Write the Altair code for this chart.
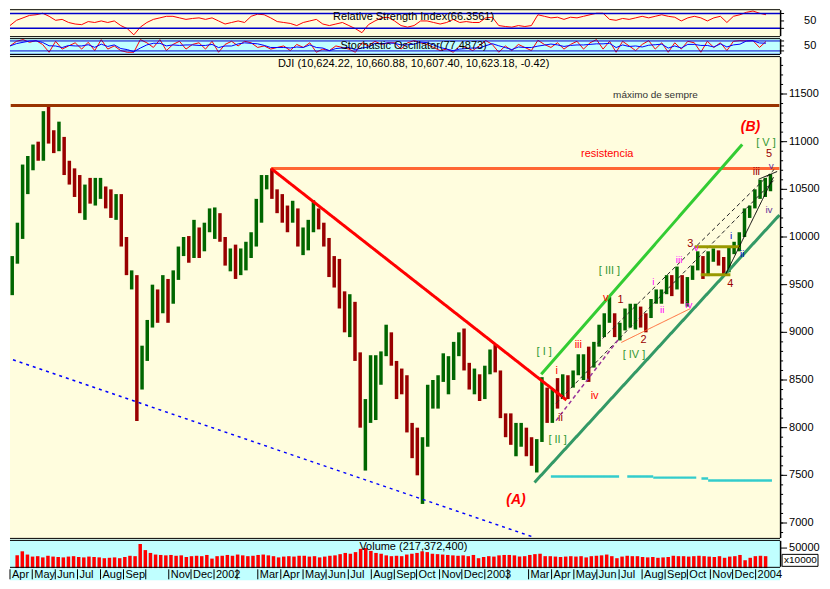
import altair as alt
import pandas as pd

# ---------------- data ----------------
week_first = "2001-04-04"   # weekly bars, one per trading week (mid-week date)

bar_high = [
    9800, 10150, 10760, 10850, 10970, 11000, 11320, 11380,
    11120, 11210, 11050, 10800, 10720,
    10650, 10550, 10620, 10620,
    10620, 10530, 10500, 10450, 10450,
    10000, 9650, 9600, 8860,
    9130, 9500, 9450, 9600, 9560,
    9650, 9900, 10000, 10010,
    10180, 10100, 10150, 10300,
    10310, 10250, 10000, 9880,
    9920, 9880, 9950, 10050,
    10400, 10650, 10650, 10720, 10500,
    10450, 10330, 10380, 10300,
    10100, 10180, 10385, 10300, 10150,
    9990, 9800, 9770, 9430,
    9400, 9320, 8790, 8300,
    8760, 8760, 8800, 9080, 9000,
    8700, 8620, 8550, 8050,
    8000, 7900, 8450, 8500, 8550,
    8780, 8750, 8900, 9000,
    9040, 8680, 8620, 8560,
    8650, 8820, 8870, 8600, 8150,
    8150, 8050, 8050, 8000,
    7900, 7880, 8530, 8420,
    8400, 8520, 8560, 8550,
    8600, 8770, 8770, 8850, 8900,
    9080, 9200, 9370, 9200,
    9100, 9250, 9300, 9300,
    9270, 9200, 9350, 9450, 9450,
    9600, 9600, 9690, 9600,
    9580, 9700, 9850, 9800, 9850,
    9880, 9860, 9790, 9900,
    9950, 10050, 10300, 10330,
    10500, 10600, 10620, 10660,
]
bar_low = [
    9390, 9720, 9980, 10450, 10700, 10800, 10800, 10980,
    10880, 10900, 10650, 10550, 10420,
    10250, 10180, 10350, 10330,
    10400, 10300, 10200, 10180, 9900,
    9600, 9450, 8070, 8400,
    8700, 9050, 9100, 9200, 9100,
    9300, 9550, 9800, 9730,
    9780, 9780, 9850, 10050,
    9980, 9950, 9700, 9640,
    9560, 9600, 9650, 9780,
    9900, 10150, 10500, 10400, 10250,
    10150, 10050, 10150, 9900,
    9810, 9860, 10050, 10080, 9900,
    9580, 9470, 9250, 9000,
    8950, 8700, 8000, 7550,
    8050, 8080, 8450, 8750, 8650,
    8300, 8350, 7950, 7680,
    7500, 7200, 7800, 8200, 8200,
    8480, 8350, 8500, 8750,
    8600, 8400, 8350, 8280,
    8300, 8560, 8580, 8100, 7900,
    7820, 7700, 7800, 7700,
    7600, 7530, 7850, 8050,
    8050, 8200, 8300, 8300,
    8420, 8550, 8500, 8480, 8630,
    8850, 8950, 9100, 8950,
    8915, 9020, 9050, 9030,
    9050, 9000, 9150, 9300, 9300,
    9400, 9380, 9450, 9300,
    9270, 9550, 9650, 9560, 9590,
    9740, 9700, 9600, 9630,
    9820, 9850, 10000, 10200,
    10300, 10400, 10420, 10480,
]
bar_close = [
    9790, 10000, 10580, 10800, 10950, 10820, 11300, 11010,
    10990, 11050, 10650, 10600, 10500,
    10250, 10530, 10420, 10460,
    10510, 10420, 10240, 10420, 9950,
    9600, 9600, 8240, 8850,
    9120, 9400, 9200, 9540, 9320,
    9600, 9870, 9960, 9850,
    10050, 9810, 10030, 10140,
    10260, 9990, 9770, 9840,
    9700, 9750, 9900, 10000,
    10370, 10570, 10610, 10430, 10400,
    10270, 10190, 10260, 9910,
    10000, 10100, 10350, 10100, 9930,
    9620, 9500, 9250, 9240,
    9380, 8700, 8020, 8260,
    8310, 8750, 8780, 8900, 8660,
    8430, 8380, 7990, 7700,
    7530, 7850, 8320, 8440, 8520,
    8540, 8580, 8800, 8900,
    8650, 8430, 8500, 8300,
    8600, 8780, 8590, 8130, 8050,
    7860, 7900, 8010, 7890,
    7740, 7860, 8520, 8150,
    8280, 8220, 8340, 8300,
    8580, 8600, 8700, 8600, 8850,
    9060, 9120, 9200, 9010,
    9070, 9120, 9190, 9280,
    9150, 9130, 9320, 9350, 9420,
    9590, 9480, 9650, 9320,
    9570, 9680, 9720, 9580, 9800,
    9810, 9770, 9630, 9780,
    9860, 10040, 10280, 10300,
    10450, 10460, 10600, 10623,
]
bar_volume = [  # x10000
    32000, 42000, 34000, 29000, 30000, 27000, 31000, 29000,
    28000, 27000, 29000, 30000, 28000,
    27000, 29000, 28000, 27000,
    25000, 26000, 27000, 25000, 28000,
    31000, 30000, 60000, 45000,
    38000, 34000, 33000, 32000, 33000,
    31000, 32000, 28000, 30000,
    31000, 30000, 33000, 24000,
    30000, 31000, 33000, 31000,
    34000, 32000, 30000, 31000,
    33000, 34000, 32000, 30000, 27000,
    29000, 30000, 29000, 31000,
    31000, 29000, 30000, 27000, 29000,
    31000, 32000, 35000, 38000,
    36000, 40000, 48000, 50000,
    43000, 38000, 36000, 32000, 30000,
    31000, 30000, 34000, 36000,
    38000, 42000, 40000, 36000, 35000,
    34000, 33000, 32000, 31000,
    32000, 30000, 33000, 25000,
    28000, 30000, 29000, 32000, 33000,
    33000, 32000, 29000, 30000,
    33000, 35000, 36000, 30000,
    30000, 29000, 28000, 29000,
    30000, 29000, 30000, 27000, 30000,
    31000, 32000, 34000, 30000,
    25000, 29000, 31000, 30000,
    30000, 28000, 27000, 28000, 26000,
    27000, 28000, 31000, 30000,
    30000, 29000, 30000, 31000, 30000,
    29000, 28000, 30000, 26000,
    29000, 30000, 33000, 20000,
    26000, 30000, 31000, 30000,
]

# oscillators, evenly sampled from Apr 2001 to mid Jan 2004
osc_first, osc_last = "2001-04-01", "2004-01-15"
rsi_values = [
    37.5, 51.7, 58.3, 65, 66.7, 70.8, 62.5, 51.7, 54.2, 45.8,
    41.7, 40, 48.3, 45.8, 50, 45.8, 50, 37.5, 29.2, 12.5,
    33.3, 45.8, 54.2, 58.3, 62.5, 62.5, 58.3, 54.2, 56.7, 58.3,
    54.2, 58.3, 50, 41.7, 45.8, 50, 45.8, 62.5, 68.3, 66.7,
    58.3, 48.3, 45.8, 43.3, 37.5, 45.8, 50, 54.2, 41.7, 37.5,
    41.7, 45.8, 37.5, 29.2, 18.3, 40, 50, 58.3, 60, 50,
    37.5, 33.3, 37.5, 50, 50, 45.8, 41.7, 45.8, 54.2, 45.8,
    48.3, 45.8, 45.8, 58.3, 60, 37.5, 35, 33.3, 37.5, 35,
    37.5, 66.7, 62.5, 58.3, 60, 54.2, 60, 58.3, 62.5, 66.7,
    70.8, 70.8, 54.2, 51.7, 56.7, 54.2, 58.3, 62.5, 58.3, 62.5,
    66.7, 62.5, 60, 50, 58.3, 62.5, 58.3, 50, 58.3, 62.5,
    45.8, 62.5, 66.7, 73.3, 76.7, 70.8, 66.7,
]
stoch_values = [
    50, 78, 88, 72, 82, 59, 12, 78, 31, 50,
    69, 31, 72, 22, 88, 31, 50, 22, 12, 12,
    88, 69, 41, 88, 22, 59, 78, 31, 59, 69,
    31, 78, 12, 59, 78, 50, 78, 69, 41, 50,
    31, 41, 50, 22, 59, 41, 69, 12, 31, 22,
    50, 41, 31, 12, 69, 50, 78, 59, 69, 69,
    31, 69, 82, 69, 59, 41, 22, 31, 12, 50,
    41, 22, 50, 82, 59, 12, 50, 22, 59, 41,
    22, 84, 59, 41, 69, 31, 59, 78, 31, 69,
    88, 31, 78, 12, 78, 50, 22, 59, 82, 31,
    69, 12, 69, 31, 78, 69, 12, 78, 41, 69,
    22, 78, 82, 80, 82, 41, 77,
]
rsi_levels = [70, 30]
stoch_levels = [80, 20, 0]

month_labels = ["Apr", "May", "Jun", "Jul", "Aug", "Sep", "", "Nov", "Dec",
                "2002", "", "Mar", "Apr", "May", "Jun", "Jul", "Aug", "Sep", "Oct", "Nov", "Dec",
                "2003", "", "Mar", "Apr", "May", "Jun", "Jul", "Aug", "Sep", "Oct", "Nov", "Dec",
                "2004"]

# right-hand scale ticks and labels
price_tick_values = [7000, 7500, 8000, 8500, 9000, 9500, 10000, 10500, 11000, 11500]
price_tick_labels = ["7000", "7500", "8000", "8500", "9000", "9500", "10000", "10500", "11000", "11500"]
price_minor_values = list(range(6900, 11801, 100))
rsi_tick_values = [30, 50, 70]
stoch_tick_values = [20, 50, 80]
osc_label_values, osc_label_text = [50], ["50"]
vol_tick_values, vol_tick_labels = [50000], ["50000"]
vol_unit = "x10000"

# drawn trend lines (date, price) -> (date, price)
line_kind = ["max", "res", "down", "blue", "gup", "glo", "bdash", "bdash", "pdash",
             "orange", "olive", "olive", "black", "black",
             "cyan", "cyan", "cyan", "cyan", "cyan"]
line_d1 = ["2001-04-02", "2002-03-19", "2002-03-19", "2001-04-05", "2003-03-18", "2003-03-09",
           "2003-06-02", "2003-04-07", "2003-04-07", "2003-07-04", "2003-10-11", "2003-10-19",
           "2003-11-22", "2004-01-05",
           "2003-03-31", "2003-07-12", "2003-08-16", "2003-10-20", "2003-10-29"]
line_p1 = [11380, 10718, 10718, 8712, 8560, 7425, 8884, 8256, 8074, 8894, 9897, 9603,
           9614, 10606, 7489, 7489, 7476, 7466, 7446]
line_d2 = ["2004-02-02", "2004-02-02", "2003-04-21", "2003-03-09", "2003-12-14", "2004-02-02",
           "2004-01-26", "2004-01-27", "2003-07-01", "2003-10-05", "2003-12-11", "2003-11-28",
           "2004-01-25", "2004-01-30",
           "2003-07-01", "2003-08-16", "2003-10-13", "2003-10-29", "2004-01-23"]
line_p2 = [11380, 10718, 8290, 6848, 10971, 10230, 10708, 10606, 8935, 9249, 9897, 9603,
           10627, 10687, 7489, 7489, 7476, 7466, 7446]

# wave-count and note labels
note_text = ["máximo de sempre", "resistencia", "[ I ]", "[ II ]", "[ III ]", "[ IV ]", "[ V ]",
             "i", "ii", "iii", "iv", "v", "1", "2", "3", "4", "5",
             "i", "ii", "iii", "iv", "v", "i", "ii", "iii", "iv", "v",
             "DJI (10,624.22, 10,660.88, 10,607.40, 10,623.18, -0.42)"]
note_date = ["2003-08-19", "2003-06-15", "2003-03-22", "2003-04-09", "2003-06-18", "2003-07-21",
             "2004-01-15", "2003-04-08", "2003-04-13", "2003-05-07", "2003-05-29", "2003-06-13",
             "2003-07-03", "2003-08-03", "2003-10-05", "2003-11-28", "2004-01-19",
             "2003-08-16", "2003-08-28", "2003-09-20", "2003-10-03", "2003-10-13",
             "2003-11-29", "2003-12-14", "2004-01-02", "2004-01-19", "2004-01-22",
             "2002-09-27"]
note_price = [11488, 10870, 8793, 7871, 9644, 8763, 10991, 8590, 8104, 8864, 8327, 9360,
              9340, 8915, 9928, 9502, 10870, 9533, 9229, 9755, 9290, 9888,
              10008, 9826, 10677, 10282, 10748, 11812]
note_kind = ["dark", "red", "green", "green", "green", "green", "green",
             "red", "maroon", "red", "red", "red", "maroon", "maroon", "maroon", "maroon", "maroon",
             "magenta", "magenta", "magenta", "magenta", "magenta", "blue", "blue",
             "maroon", "purple", "purple", "black"]

wave_text = ["(A)", "(B)"]
wave_date = ["2003-02-12", "2003-12-25"]
wave_price = [7243, 11153]

rsi_title = "Relative Strength Index(66.3561)"
stoch_title = "Stochastic Oscillator(77.4873)"
vol_title = "Volume (217,372,400)"
title_date = "2002-09-27"

# ---------------- styles ----------------
FONT = "Liberation Sans"
BG_Y = "#FFFDDE"
BG_C = "#C0FFFF"
W = 772
SIDE_W = 42
H_RSI, H_STO, H_MAIN, H_VOL, H_LAB = 29, 18, 485, 29, 12

line_style = {
    "max": ("#993300", 3, "solid"), "res": ("#FF6633", 3, "solid"),
    "down": ("#FF0000", 3, "solid"), "blue": ("#0000FF", 1.5, "dot"),
    "gup": ("#33CC33", 3, "solid"), "glo": ("#339966", 3, "solid"),
    "bdash": ("#222222", 1, "dash"), "pdash": ("#993399", 1.5, "dash"),
    "orange": ("#FF6633", 1, "solid"), "olive": ("#999900", 3, "solid"),
    "black": ("#000000", 1, "solid"), "cyan": ("#33CCCC", 2.5, "solid"),
}
note_style = {
    "dark": ("#333333", 10), "red": ("#FF0000", 11), "green": ("#339933", 11),
    "maroon": ("#990000", 11), "magenta": ("#FF00FF", 10), "blue": ("#0000CC", 10),
    "purple": ("#663399", 10), "black": ("#000000", 11),
}

# ---------------- frames ----------------
weeks = pd.date_range(week_first, periods=len(bar_close), freq="W-WED")
bars = pd.DataFrame({"date": weeks, "high": bar_high, "low": bar_low,
                     "close": bar_close, "vol": bar_volume})
bars["dir"] = ["up" if i == 0 or bar_close[i] >= bar_close[i - 1] else "down"
               for i in range(len(bar_close))]

rsi_df = pd.DataFrame({"date": pd.date_range(osc_first, osc_last, periods=len(rsi_values)),
                       "rsi": rsi_values})
sto_df = pd.DataFrame({"date": pd.date_range(osc_first, osc_last, periods=len(stoch_values)),
                       "k": stoch_values})

lines = pd.DataFrame({"d1": pd.to_datetime(line_d1), "p1": line_p1,
                      "d2": pd.to_datetime(line_d2), "p2": line_p2})
lines["color"] = [line_style[k][0] for k in line_kind]
lines["w"] = [line_style[k][1] for k in line_kind]
lines["dash"] = [line_style[k][2] for k in line_kind]

notes = pd.DataFrame({"d": pd.to_datetime(note_date), "p": note_price, "t": note_text})
notes["c"] = [note_style[k][0] for k in note_kind]
notes["s"] = [note_style[k][1] for k in note_kind]

waves = pd.DataFrame({"d": pd.to_datetime(wave_date), "p": wave_price, "t": wave_text})

months = pd.date_range("2001-04-01", "2004-01-01", freq="MS")
lab_df = pd.DataFrame({"d": months, "t": month_labels})

x_dom = [alt.DateTime(year=2001, month=4, date=1), alt.DateTime(year=2004, month=2, date=3)]
month_vals = [alt.DateTime(year=d.year, month=d.month, date=1) for d in months]
one_row = pd.DataFrame({"k": [0]})


def xgrid(field):
    return alt.X(f"{field}:T", scale=alt.Scale(domain=x_dom),
                 axis=alt.Axis(values=month_vals, grid=True, gridDash=[4, 4],
                               gridColor="#A8A8A8", labels=False, ticks=False,
                               domain=False, title=None, aria=False))


def xplain(field):
    return alt.X(f"{field}:T", scale=alt.Scale(domain=x_dom), axis=None)


def background(fill, h):
    # fill only (no stroke so the panel bounds stay exact)
    return alt.Chart(one_row).mark_rect(fill=fill).encode(
        x=alt.value(0), x2=alt.value(W), y=alt.value(0), y2=alt.value(h))


def borders(h):
    return alt.Chart(pd.DataFrame({"yy": [1, h - 1]})).mark_rule(color="black", strokeWidth=1).encode(
        x=alt.value(0), x2=alt.value(W), y=alt.Y("yy:Q", scale=alt.Scale(domain=[h, 0], range=[0, h]), axis=None))


def text_layer(df_, scale):
    return alt.Chart(df_).mark_text(font=FONT, fontSize=11, color="black").encode(
        x=xplain("d"), y=alt.Y("v:Q", scale=scale, axis=None), text="t:N")


def side(scale, h, tick_vals, label_vals, label_text, label_x, tick_len=7,
         minor_vals=None, extra_layers=()):
    layers = [alt.Chart(one_row).mark_rule(color="black", strokeWidth=1.5).encode(
        x=alt.value(0.5), y=alt.value(1.5), y2=alt.value(h - 1.5))]
    if minor_vals:
        layers.append(alt.Chart(pd.DataFrame({"v": minor_vals})).mark_rule(color="black").encode(
            x=alt.value(0), x2=alt.value(3), y=alt.Y("v:Q", scale=scale, axis=None)))
    layers.append(alt.Chart(pd.DataFrame({"v": tick_vals})).mark_rule(color="black").encode(
        x=alt.value(0), x2=alt.value(tick_len), y=alt.Y("v:Q", scale=scale, axis=None)))
    layers.append(alt.Chart(pd.DataFrame({"v": label_vals, "t": label_text})).mark_text(
        align="left", baseline="middle", font=FONT, fontSize=11, color="black").encode(
        x=alt.value(label_x), y=alt.Y("v:Q", scale=scale, axis=None), text="t:N"))
    layers.extend(extra_layers)
    return alt.layer(*layers).properties(width=SIDE_W, height=h)


# ---------------- RSI ----------------
rsi_scale = alt.Scale(domain=[5, 83], nice=False, zero=False)
rsi = alt.layer(
    background(BG_Y, H_RSI),
    alt.Chart(rsi_df).mark_line(color="#FF0000", strokeWidth=1)
    .encode(x=xgrid("date"), y=alt.Y("rsi:Q", scale=rsi_scale, axis=None)),
    alt.Chart(pd.DataFrame({"v": rsi_levels})).mark_rule(color="#0000CC", strokeWidth=1.5)
    .encode(y=alt.Y("v:Q", scale=rsi_scale, axis=None)),
    text_layer(pd.DataFrame({"d": pd.to_datetime([title_date]), "v": [60], "t": [rsi_title]}), rsi_scale),
    borders(H_RSI),
).resolve_scale(y="independent").properties(width=W, height=H_RSI)
rsi_side = side(rsi_scale, H_RSI, rsi_tick_values, osc_label_values, osc_label_text, 24, tick_len=4)

# ---------------- Stochastic ----------------
sto_scale = alt.Scale(domain=[-8, 100], nice=False, zero=False)
sto_base = alt.Chart(sto_df)
sto = alt.layer(
    background(BG_C, H_STO),
    sto_base.mark_line(color="#FF0000", strokeWidth=1)
    .encode(x=xgrid("date"), y=alt.Y("k:Q", scale=sto_scale, axis=None)),
    alt.Chart(pd.DataFrame({"v": stoch_levels})).mark_rule(color="#0000CC", strokeWidth=1)
    .encode(y=alt.Y("v:Q", scale=sto_scale, axis=None)),
    sto_base.transform_window(dline="mean(k)", frame=[-2, 0]).mark_line(color="#0000FF", strokeWidth=1)
    .encode(x=xplain("date"), y=alt.Y("dline:Q", scale=sto_scale, axis=None)),
    text_layer(pd.DataFrame({"d": pd.to_datetime([title_date]), "v": [50], "t": [stoch_title]}), sto_scale),
    borders(H_STO),
).resolve_scale(y="independent").properties(width=W, height=H_STO)
sto_side = side(sto_scale, H_STO, stoch_tick_values, osc_label_values, osc_label_text, 24, tick_len=4)

# ---------------- main price panel ----------------
yscale = alt.Scale(domain=[6828, 11903], nice=False, zero=False)

price = alt.Chart(bars).mark_rule(strokeWidth=3.5).encode(
    x=xgrid("date"),
    y=alt.Y("low:Q", scale=yscale, axis=None), y2="high:Q",
    color=alt.Color("dir:N", scale=alt.Scale(domain=["up", "down"], range=["#006600", "#990000"]),
                    legend=None))

trend = alt.Chart(lines).mark_rule(clip=True).encode(
    x=xplain("d1"), x2="d2",
    y=alt.Y("p1:Q", scale=yscale, axis=None), y2="p2:Q",
    color=alt.Color("color:N", scale=None),
    size=alt.Size("w:Q", scale=None),
    strokeDash=alt.StrokeDash("dash:N", scale=alt.Scale(domain=["solid", "dash", "dot"],
                                                        range=[[1, 0], [4, 3], [3, 4]]),
                              legend=None))

note_layer = alt.Chart(notes).mark_text(font=FONT).encode(
    x=xplain("d"), y=alt.Y("p:Q", scale=yscale, axis=None), text="t:N",
    color=alt.Color("c:N", scale=None), size=alt.Size("s:Q", scale=None))

wave_layer = alt.Chart(waves).mark_text(font=FONT, fontSize=14, fontWeight="bold",
                                        fontStyle="italic", color="#FF0000").encode(
    x=xplain("d"), y=alt.Y("p:Q", scale=yscale, axis=None), text="t:N")

main = alt.layer(background(BG_Y, H_MAIN), price, trend, note_layer, wave_layer,
                 borders(H_MAIN)).resolve_scale(y="independent").properties(width=W, height=H_MAIN)
main_side = side(yscale, H_MAIN, price_tick_values, price_tick_values, price_tick_labels, 9,
                 tick_len=7, minor_vals=price_minor_values)

# ---------------- volume ----------------
vol_scale = alt.Scale(domain=[0, 71400], nice=False)
vol = alt.layer(
    background(BG_C, H_VOL),
    alt.Chart(bars).mark_bar(color="#FF0000", size=3.5).encode(
        x=xgrid("date"), y=alt.Y("vol:Q", scale=vol_scale, axis=None)),
    text_layer(pd.DataFrame({"d": pd.to_datetime([title_date]), "v": [52000], "t": [vol_title]}), vol_scale),
    borders(H_VOL),
).resolve_scale(y="independent").properties(width=W, height=H_VOL)
unit_box = alt.Chart(one_row).mark_rect(fill="white", stroke="black", strokeWidth=1).encode(
    x=alt.value(2), x2=alt.value(38), y=alt.value(15), y2=alt.value(27))
unit_text = alt.Chart(pd.DataFrame({"t": [vol_unit]})).mark_text(
    align="left", baseline="middle", font=FONT, fontSize=10, color="black").encode(
    x=alt.value(4), y=alt.value(21), text="t:N")
vol_side = side(vol_scale, H_VOL, vol_tick_values, vol_tick_values, vol_tick_labels, 9,
                tick_len=7, extra_layers=(unit_box, unit_text))

# ---------------- month label row ----------------
labels = alt.layer(
    alt.Chart(one_row).mark_rect(fill=BG_C).encode(
        x=alt.value(0), x2=alt.value(W), y=alt.value(0), y2=alt.value(H_LAB)),
    alt.Chart(lab_df).mark_rule(color="black", strokeWidth=1).encode(
        x=xplain("d"), y=alt.value(1), y2=alt.value(H_LAB - 1)),
    alt.Chart(lab_df).mark_text(align="left", baseline="middle", dx=2, font=FONT,
                                fontSize=11, color="black").encode(
        x=xplain("d"), y=alt.value(6.5), text="t:N"),
).properties(width=W, height=H_LAB)


def row(a, b):
    return alt.hconcat(a, b, spacing=0, bounds="flush")


chart = alt.vconcat(
    row(rsi, rsi_side), row(sto, sto_side), row(main, main_side), row(vol, vol_side), labels,
    spacing=0
).properties(padding=0).configure(background="white", font=FONT).configure_view(strokeWidth=0)

chart.save("out.html", embed_options={"renderer": "svg", "actions": False})
